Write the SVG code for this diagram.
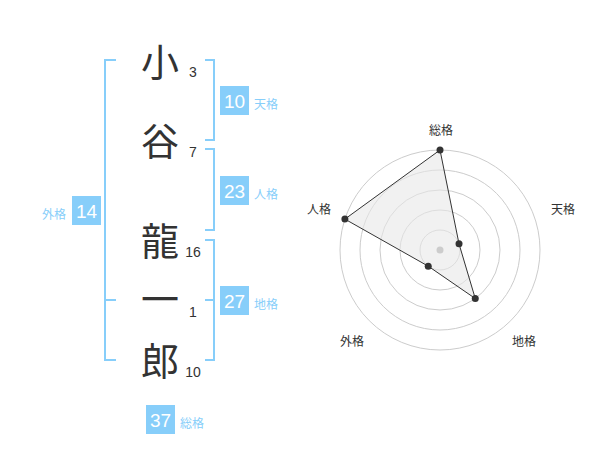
<svg xmlns="http://www.w3.org/2000/svg" width="600" height="470" viewBox="0 0 600 470">
<style>
.ch{font-family:"Noto Sans CJK JP","Noto Sans CJK SC",sans-serif;font-size:38px;fill:#333;text-anchor:middle}
.st{font-family:"Liberation Sans",Arial,sans-serif;font-size:14px;fill:#333;text-anchor:middle}
.box{fill:#87cefa}
.num{font-family:"Liberation Sans",Arial,sans-serif;font-size:19px;fill:#fff;text-anchor:middle}
.lb{font-family:"Noto Sans CJK JP","Noto Sans CJK SC",sans-serif;font-size:12px;fill:#87cefa}
.br{fill:none;stroke:#87cefa;stroke-width:2}
.ring{fill:none;stroke:#ccc;stroke-width:1}
.rl{font-family:"Noto Sans CJK JP","Noto Sans CJK SC",sans-serif;font-size:12px;fill:#333;text-anchor:middle}
.dot{fill:#333}
</style>
<rect width="600" height="470" fill="#fff"/>
<g id="connectors">
<path class="br" d="M116,60 H105 V360 H116 M105,300 H116"/>
<path class="br" d="M205,60 H214 V140 H205"/>
<path class="br" d="M205,149 H214 V230 H205"/>
<path class="br" d="M205,240 H214 V360 H205 M205,300 H214"/>
</g>
<g id="name">
<g id="c1"><text class="ch" x="160" y="76">小</text><text class="st" x="193" y="77">3</text></g>
<g id="c2"><text class="ch" x="160" y="155">谷</text><text class="st" x="193" y="157">7</text></g>
<g id="c3"><text class="ch" x="160" y="255">龍</text><text class="st" x="193" y="257">16</text></g>
<g id="c4"><text class="ch" x="160" y="313">一</text><text class="st" x="193" y="317">1</text></g>
<g id="c5"><text class="ch" x="160" y="375">郎</text><text class="st" x="193" y="377">10</text></g>
</g>
<g id="tenkaku"><rect class="box" x="220" y="86" width="29" height="29"/><text class="num" x="234.5" y="108">10</text><text class="lb" x="254" y="108.5">天格</text></g>
<g id="jinkaku"><rect class="box" x="220" y="176" width="29" height="29"/><text class="num" x="234.5" y="198">23</text><text class="lb" x="254" y="198.5">人格</text></g>
<g id="chikaku"><rect class="box" x="220" y="286" width="29" height="29"/><text class="num" x="234.5" y="308">27</text><text class="lb" x="254" y="308.5">地格</text></g>
<g id="gaikaku"><rect class="box" x="72" y="196" width="29" height="29"/><text class="num" x="86.5" y="218">14</text><text class="lb" x="66" y="218.5" text-anchor="end">外格</text></g>
<g id="soukaku"><rect class="box" x="146" y="405" width="29" height="29"/><text class="num" x="160.5" y="427">37</text><text class="lb" x="180" y="427.5">総格</text></g>
<g id="radar">
<circle class="ring" cx="440" cy="250" r="20"/>
<circle class="ring" cx="440" cy="250" r="40"/>
<circle class="ring" cx="440" cy="250" r="60"/>
<circle class="ring" cx="440" cy="250" r="80"/>
<circle class="ring" cx="440" cy="250" r="100"/>
<polygon points="440,150 459.02,243.82 475.27,298.54 428.24,266.18 344.89,219.1" fill="#e8e8e8" fill-opacity="0.6" stroke="#333" stroke-width="1"/>
<circle cx="440" cy="250" r="3.5" fill="#ccc"/>
<circle class="dot" cx="440" cy="150" r="3.5"/>
<circle class="dot" cx="459.02" cy="243.82" r="3.5"/>
<circle class="dot" cx="475.27" cy="298.54" r="3.5"/>
<circle class="dot" cx="428.24" cy="266.18" r="3.5"/>
<circle class="dot" cx="344.89" cy="219.1" r="3.5"/>
<text class="rl" x="441" y="135">総格</text>
<text class="rl" x="563" y="213.5">天格</text>
<text class="rl" x="319" y="213.5">人格</text>
<text class="rl" x="524" y="346">地格</text>
<text class="rl" x="352" y="346">外格</text>
</g>
</svg>
